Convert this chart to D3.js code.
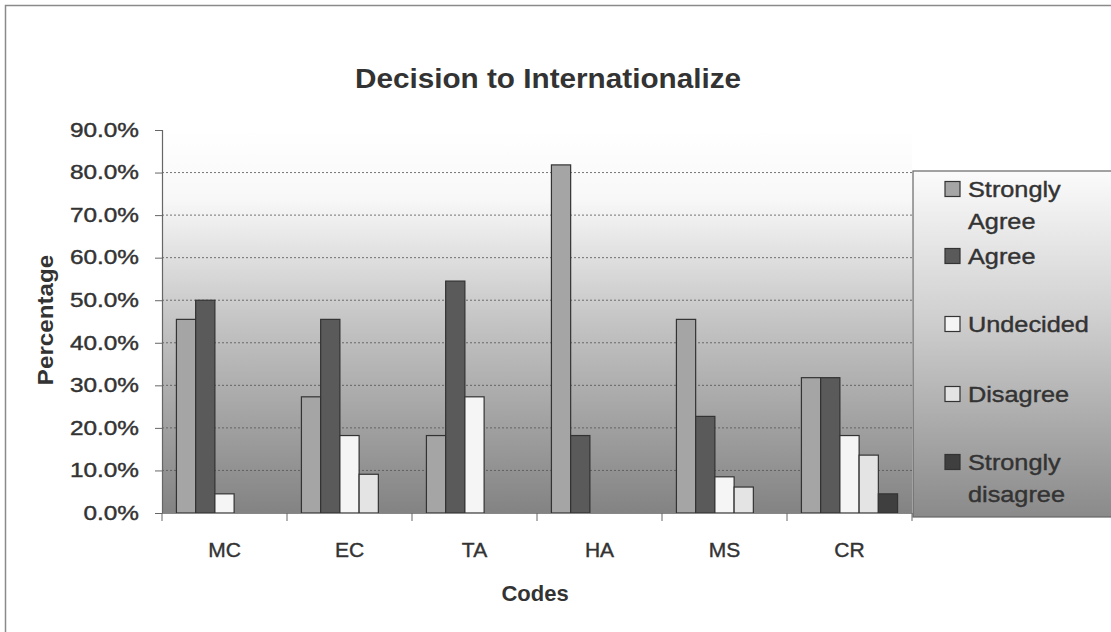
<!DOCTYPE html>
<html><head><meta charset="utf-8">
<script src="https://cdn.jsdelivr.net/npm/d3@7"></script>
<style>body{margin:0;background:#fff}svg{display:block}text{font-family:"Liberation Sans",Arial,sans-serif;fill:#333}</style>
</head><body>
<script>
const categories = ["MC","EC","TA","HA","MS","CR"];
const seriesNames = ["Strongly Agree","Agree","Undecided","Disagree","Strongly disagree"];
const stronglyAgree = [45.5,27.3,18.2,81.8,45.5,31.8];
const agree = [50.0,45.5,54.5,18.2,22.7,31.8];
const undecided = [4.5,18.2,27.3,0,8.5,18.2];
const disagree = [0,9.1,0,0,6.1,13.6];
const stronglyDisagree = [0,0,0,0,0,4.5];
const yTicks = [0,10,20,30,40,50,60,70,80,90];
const seriesColors = ["#a5a5a5","#5a5a5a","#f5f5f5","#e4e4e4","#3f3f3f"];

const values = [stronglyAgree, agree, undecided, disagree, stronglyDisagree];
const W = 1111, H = 632;
const svg = d3.select("body").append("svg").attr("width", W).attr("height", H);
const defs = svg.append("defs");
const g1 = defs.append("linearGradient").attr("id","pg").attr("x1",0).attr("y1",0).attr("x2",0).attr("y2",1);
g1.append("stop").attr("offset","0%").attr("stop-color","#ffffff");
g1.append("stop").attr("offset","18%").attr("stop-color","#f8f8f8");
g1.append("stop").attr("offset","50%").attr("stop-color","#c4c4c4");
g1.append("stop").attr("offset","100%").attr("stop-color","#838383");
const g2 = defs.append("linearGradient").attr("id","lg").attr("x1",0).attr("y1",0).attr("x2",0).attr("y2",1);
g2.append("stop").attr("offset","0%").attr("stop-color","#fbfbfb");
g2.append("stop").attr("offset","40%").attr("stop-color","#d2d2d2");
g2.append("stop").attr("offset","100%").attr("stop-color","#8a8a8a");

// outer chart border
svg.append("rect").attr("x",5.5).attr("y",5.5).attr("width",W+10).attr("height",H+10)
  .attr("fill","#fff").attr("stroke","#8a8a8a").attr("stroke-width",1.5);

const pLeft = 162, pRight = 912, pTop = 130, pBottom = 513;
const x = d3.scaleBand().domain(categories).range([pLeft,pRight]).paddingInner(0).paddingOuter(0);
const y = d3.scaleLinear().domain([0,90]).range([pBottom,pTop]);

svg.append("rect").attr("x",pLeft).attr("y",pTop).attr("width",pRight-pLeft).attr("height",pBottom-pTop).attr("fill","url(#pg)");

// gridlines
svg.append("g").selectAll("line").data(yTicks.filter(t=>t>0 && t<90)).join("line")
  .attr("x1",pLeft).attr("x2",pRight).attr("y1",d=>y(d)).attr("y2",d=>y(d))
  .attr("stroke","#555").attr("stroke-width",1).attr("stroke-dasharray","2,2").attr("opacity",0.8);

// bars
const bw = x.bandwidth()/6.5, off = bw*0.75;
categories.forEach((c,i)=>{
  values.forEach((arr,s)=>{
    const v = arr[i];
    if (v<=0) return;
    svg.append("rect").attr("x", x(c)+off+s*bw).attr("y", y(v)).attr("width", bw).attr("height", y(0)-y(v))
      .attr("fill", seriesColors[s]).attr("stroke","#333").attr("stroke-width",1.2);
  });
});

const thicken = sel => sel.attr("stroke","#333").attr("stroke-width",0.4);

// y axis
const tickScale = 1.25;
const ya = d3.axisLeft(y).tickValues(yTicks).tickSize(7).tickFormat(d=>d.toFixed(1)+"%");
const yg = svg.append("g").attr("transform",`translate(${pLeft},0)`).call(ya);
yg.select(".domain").attr("stroke","#666").attr("stroke-width",1.2);
yg.selectAll(".tick line").attr("stroke","#666");
yg.selectAll("text").attr("font-size",19.5).attr("fill","#333")
  .attr("transform",`scale(${tickScale},1)`).attr("x",-23/tickScale).call(thicken);

// x axis
const xa = d3.axisBottom(x).tickSize(0).tickFormat("");
const xg = svg.append("g").attr("transform",`translate(0,${pBottom})`).call(xa);
xg.select(".domain").attr("stroke","#888").attr("stroke-width",1.2);
xg.selectAll(".sep").data(d3.range(categories.length+1)).join("line").attr("class","sep")
  .attr("x1",i=>pLeft+i*x.bandwidth()).attr("x2",i=>pLeft+i*x.bandwidth()).attr("y1",0).attr("y2",8).attr("stroke","#666");
svg.append("g").selectAll("text").data(categories).join("text")
  .attr("transform",d=>`translate(${x(d)+x.bandwidth()/2},557)`)
  .attr("text-anchor","middle").attr("font-size",21).attr("fill","#333").text(d=>d).call(thicken);

// titles
svg.append("text").attr("transform","translate(548,88) scale(1.1,1)").attr("text-anchor","middle")
  .attr("font-size",27).attr("font-weight","bold").attr("fill","#333").text("Decision to Internationalize");
svg.append("text").attr("transform","translate(535,601)").attr("text-anchor","middle")
  .attr("font-size",22).attr("font-weight","bold").attr("fill","#333").text("Codes");
svg.append("text").attr("transform","translate(53,320) rotate(-90) scale(1.1,1)").attr("text-anchor","middle")
  .attr("font-size",22).attr("font-weight","bold").attr("fill","#333").text("Percentage");

// legend
const lx = 913, ly = 171, lh = 346;
svg.append("rect").attr("x",lx).attr("y",ly).attr("width",W-lx+10).attr("height",lh)
  .attr("fill","url(#lg)").attr("stroke","#666").attr("stroke-width",1.2);
const legendLines = [["Strongly","Agree"],["Agree"],["Undecided"],["Disagree"],["Strongly","disagree"]];
const legendY = [197,264,332,402,470];
legendLines.forEach((lines,s)=>{
  const yy = legendY[s];
  svg.append("rect").attr("x",945).attr("y",yy-15.5).attr("width",15).attr("height",15)
    .attr("fill",seriesColors[s]).attr("stroke","#333").attr("stroke-width",1.2);
  lines.forEach((ln,k)=>{
    svg.append("text").attr("transform",`translate(968,${yy+k*32}) scale(1.15,1)`)
      .attr("font-size",22).attr("fill","#333").text(ln).call(thicken);
  });
});
</script>
</body></html>
